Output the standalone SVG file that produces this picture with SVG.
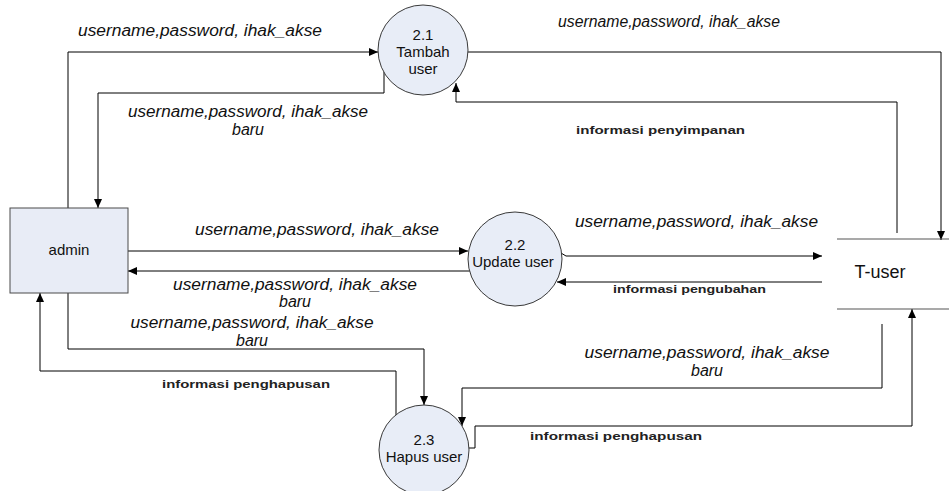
<svg xmlns="http://www.w3.org/2000/svg" width="949" height="491" viewBox="0 0 949 491">
<style>
.bg{fill:#ffffff}
.proc{fill:#e8edf7;stroke:#3a3a3a;stroke-width:1}
.ent{fill:#e8ecf6;stroke:#4a4a4a;stroke-width:1}
.store{stroke:#555555;stroke-width:1.2;fill:none}
.c{fill:none;stroke:#000000;stroke-width:1}
.lbl{font-family:"Liberation Sans",Arial,sans-serif;font-style:italic;font-size:16px;fill:#111111}
.info{font-family:"Liberation Sans",Arial,sans-serif;font-weight:bold;font-size:11px;fill:#222222}
.node{font-family:"Liberation Sans",Arial,sans-serif;font-size:15px;fill:#111111;text-anchor:middle}
.big{font-size:18px}
</style>
<defs>
<marker id="ah" markerWidth="9" markerHeight="8" refX="9" refY="4" orient="auto" markerUnits="userSpaceOnUse">
<path d="M0,0 L9,4 L0,8 z" fill="#000000"/>
</marker>
</defs>
<rect class="bg" x="0" y="0" width="949" height="491"/>

<g id="connectors">
<polyline class="c" points="68,208 68,52 378,52" marker-end="url(#ah)"/>
<polyline class="c" points="384,72 384,93 98,93 98,208" marker-end="url(#ah)"/>
<polyline class="c" points="468,52 941,52 941,240" marker-end="url(#ah)"/>
<polyline class="c" points="897,233 897,102 456,102 456,83" marker-end="url(#ah)"/>
<polyline class="c" points="128,251 468,251" marker-end="url(#ah)"/>
<polyline class="c" points="470,271 128,271" marker-end="url(#ah)"/>
<polyline class="c" points="561,253 566,256 822,256" marker-end="url(#ah)"/>
<polyline class="c" points="822,282 557,282" marker-end="url(#ah)"/>
<polyline class="c" points="68,293 68,349 424,349 424,405" marker-end="url(#ah)"/>
<polyline class="c" points="396,415 396,371 40,371 40,293" marker-end="url(#ah)"/>
<polyline class="c" points="882,324 882,388 462,388 462,426" marker-end="url(#ah)"/>
<polyline class="c" points="469,448 475,448 475,426 912,426 912,309" marker-end="url(#ah)"/>
</g>

<g id="labels">
<text class="lbl" x="78" y="36" textLength="244" lengthAdjust="spacingAndGlyphs">username,password, ihak_akse</text>
<text class="lbl" x="248" y="117" text-anchor="middle" textLength="240" lengthAdjust="spacingAndGlyphs">username,password, ihak_akse</text>
<text class="lbl" x="248" y="135" text-anchor="middle">baru</text>
<text class="lbl" x="558" y="27" textLength="222" lengthAdjust="spacingAndGlyphs">username,password, ihak_akse</text>
<text class="info" x="576" y="134" textLength="169" lengthAdjust="spacingAndGlyphs">informasi penyimpanan</text>
<text class="lbl" x="195" y="235" textLength="244" lengthAdjust="spacingAndGlyphs">username,password, ihak_akse</text>
<text class="lbl" x="295" y="290" text-anchor="middle" textLength="244" lengthAdjust="spacingAndGlyphs">username,password, ihak_akse</text>
<text class="lbl" x="295" y="307" text-anchor="middle">baru</text>
<text class="lbl" x="575" y="227" textLength="243" lengthAdjust="spacingAndGlyphs">username,password, ihak_akse</text>
<text class="info" x="613" y="293" textLength="153" lengthAdjust="spacingAndGlyphs">informasi pengubahan</text>
<text class="lbl" x="252" y="328" text-anchor="middle" textLength="243" lengthAdjust="spacingAndGlyphs">username,password, ihak_akse</text>
<text class="lbl" x="252" y="346" text-anchor="middle">baru</text>
<text class="info" x="162" y="388" textLength="168" lengthAdjust="spacingAndGlyphs">informasi penghapusan</text>
<text class="lbl" x="707" y="358" text-anchor="middle" textLength="245" lengthAdjust="spacingAndGlyphs">username,password, ihak_akse</text>
<text class="lbl" x="707" y="376" text-anchor="middle">baru</text>
<text class="info" x="530" y="440" textLength="172" lengthAdjust="spacingAndGlyphs">informasi penghapusan</text>
</g>

<g id="admin">
<rect class="ent" x="10" y="208" width="118" height="85"/>
<text class="node" x="69" y="255">admin</text>
</g>

<g id="p21">
<circle class="proc" cx="423" cy="50" r="45"/>
<text class="node" x="423" y="40">2.1</text>
<text class="node" x="423" y="57">Tambah</text>
<text class="node" x="423" y="74">user</text>
</g>

<g id="p22">
<circle class="proc" cx="515" cy="259" r="47"/>
<text class="node" x="515" y="250">2.2</text>
<text class="node" x="513" y="267">Update user</text>
</g>

<g id="p23">
<circle class="proc" cx="424" cy="450" r="45"/>
<text class="node" x="424" y="445">2.3</text>
<text class="node" x="424" y="462">Hapus user</text>
</g>

<g id="tuser">
<line class="store" x1="837" y1="239" x2="949" y2="239"/>
<line class="store" x1="837" y1="309" x2="949" y2="309"/>
<text class="node big" x="880" y="278">T-user</text>
</g>
</svg>
